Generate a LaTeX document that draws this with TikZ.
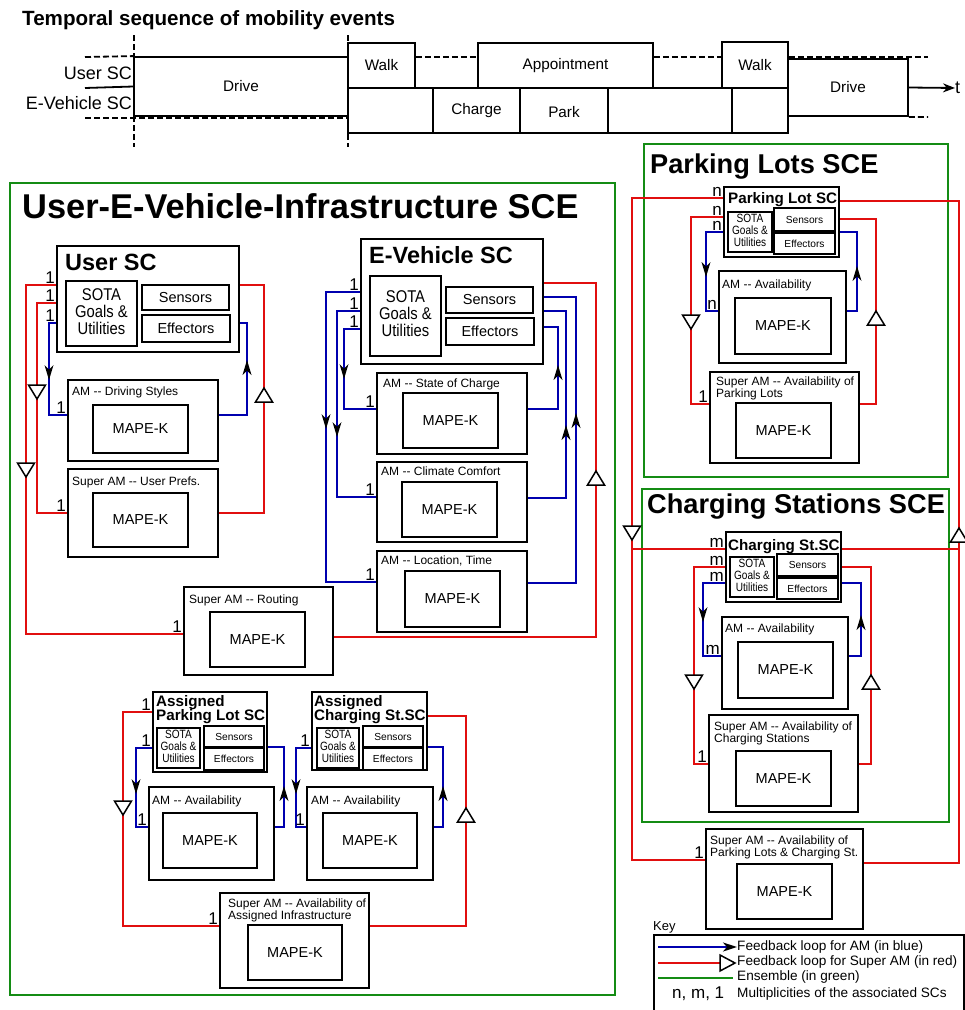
\documentclass[tikz,border=0pt]{standalone}
\usepackage{fontspec}
\setmainfont{Liberation Sans}
\usepackage{graphicx}
\usetikzlibrary{fit,arrows.meta}
\definecolor{lred}{RGB}{225,15,15}
\definecolor{lblue}{RGB}{0,0,175}
\definecolor{lgreen}{RGB}{20,140,20}
\tikzset{
 box/.style={draw, line width=1.8pt, inner sep=0pt, rectangle},
 sce/.style={draw=lgreen, line width=1.8pt, inner sep=0pt, rectangle},
 bl/.style={draw=lblue, line width=1.8pt},
 rd/.style={draw=lred, line width=1.8pt},
 gr/.style={draw=lgreen, line width=1.8pt},
 tline/.style={draw, line width=1.8pt},
 dsh/.style={draw, line width=1.8pt, dash pattern=on 6pt off 3pt},
 tri/.style={draw=black, line width=1.5pt, fill=white, line join=miter},
 mk/.style={font=\fontsize{14.5}{17}\selectfont, inner sep=0pt},
 se/.style={font=\fontsize{14.5}{17}\selectfont, inner sep=0pt},
 sesm/.style={font=\fontsize{10.2}{12}\selectfont, inner sep=0pt},
 lab/.style={font=\fontsize{12}{12}\selectfont, anchor=base west, inner sep=0pt},
 mult/.style={font=\fontsize{17}{17}\selectfont, anchor=south east, inner sep=1pt},
 tlab/.style={font=\fontsize{15.3}{17}\selectfont, inner sep=0pt},
 rowlab/.style={font=\fontsize{18}{18}\selectfont, inner sep=0pt, anchor=east},
 sctitle/.style={font=\bfseries\fontsize{23.5}{24}\selectfont, anchor=base west, inner sep=0pt},
 sctsm/.style={font=\bfseries\fontsize{15.2}{16}\selectfont, anchor=base west, inner sep=0pt},
 scetitle/.style={font=\bfseries\fontsize{27.2}{28}\selectfont, anchor=base west, inner sep=0pt},
 keyt/.style={font=\fontsize{13.6}{15}\selectfont, anchor=west, inner sep=0pt},
}
\newcommand{\bx}[6][box]{\node[#1, fit={(#3,#4) (#5,#6)}] (#2) {};}
\newcommand{\adn}[2]{\fill[black] ({#1},{#2+7}) -- ({#1-4.5},{#2-8}) -- ({#1},{#2-3.5}) -- ({#1+4.5},{#2-8}) -- cycle;}
\newcommand{\aup}[2]{\fill[black] ({#1},{#2-7}) -- ({#1-4.5},{#2+8}) -- ({#1},{#2+3.5}) -- ({#1+4.5},{#2+8}) -- cycle;}
\newcommand{\tdn}[2]{\draw[tri] ({#1-8.5},{#2-7}) -- ({#1+8.5},{#2-7}) -- ({#1},{#2+7}) -- cycle;}
\newcommand{\tup}[2]{\draw[tri] ({#1-8.5},{#2+7}) -- ({#1+8.5},{#2+7}) -- ({#1},{#2-7}) -- cycle;}
\newcommand{\mapek}[5]{\bx{#1}{#2}{#3}{#4}{#5}\node[mk] at (#1) {MAPE-K};}
\newcommand{\sotabig}[5]{\bx{#1}{#2}{#3}{#4}{#5}\node[inner sep=0pt] at (#1) {\scalebox{0.87}[1]{\fontsize{17}{15}\selectfont\begin{tabular}{@{}c@{}}SOTA\\Goals \&\\Utilities\end{tabular}}};}
\newcommand{\sotasm}[5]{\bx{#1}{#2}{#3}{#4}{#5}\node[inner sep=0pt] at (#1) {\scalebox{0.84}[1]{\fontsize{12}{10.5}\selectfont\begin{tabular}{@{}c@{}}SOTA\\Goals \&\\Utilities\end{tabular}}};}
\newcommand{\ml}[3]{\node[mult] at (#1|-0,#2) {#3};}
\begin{document}
\begin{tikzpicture}[x=1pt,y=-1pt]
\useasboundingbox (0,0) rectangle (965,1010);
\fill[white] (0,0) rectangle (965,1010);

% ---------------- Timeline ----------------
\node[anchor=base west, inner sep=0pt, font=\bfseries\fontsize{20.6}{21}\selectfont] (ttitle) at (22,25) {Temporal sequence of mobility events};
\coordinate (v1a) at (134,35); \coordinate (v1b) at (134,147);
\coordinate (v2a) at (348,35); \coordinate (v2b) at (348,147);
\draw[dsh] (v1a) -- (v1b);
\draw[dsh] (v2a) -- (v2b);
\bx{tdrive1}{134}{57}{348}{116}
\bx{twalk1}{348}{43}{415}{88}
\bx{tappt}{478}{43}{653}{88}
\bx{twalk2}{722}{42}{788}{88}
\bx{tdrive2}{788}{59}{908}{116}
\bx{tev1}{348}{88}{433}{133}
\bx{tcharge}{433}{88}{520}{133}
\bx{tpark}{520}{88}{608}{133}
\bx{tev4}{608}{88}{732}{133}
\bx{tev5}{732}{88}{788}{133}
\coordinate (d1) at (85,57);
\coordinate (d2) at (85,118); \coordinate (d3) at (348,118);
\coordinate (s1) at (85,88);
\coordinate (d4) at (928,57); \coordinate (d5) at (928,117);
\draw[dsh] (d1) -- (tdrive1.north west);
\draw[dsh] (d2) -- (d3);
\draw[tline] (s1) -- (tdrive1.west);
\draw[dsh] (twalk1.east|-0,57) -- (tappt.west|-0,57);
\draw[dsh] (tappt.east|-0,57) -- (twalk2.west|-0,57);
\draw[dsh] (twalk2.east|-0,57) -- (d4);
\draw[dsh] (tdrive2.south east) -- (d5);
\node[anchor=west, inner sep=0pt, font=\fontsize{18}{18}\selectfont] (tt) at (955,88) {t};
\draw[tline, -{Stealth[length=12pt,width=9pt]}] (tdrive2.east) -- (tt.west);
\node[rowlab] (lu) at (132,73) {User SC};
\node[rowlab] (le) at (132,103) {E-Vehicle SC};
\node[tlab] at (tdrive1) {Drive};
\node[tlab] at (twalk1) {Walk};
\node[tlab] at (tappt) {Appointment};
\node[tlab] at (twalk2) {Walk};
\node[tlab] at (tdrive2) {Drive};
\node[tlab] at (tcharge) {Charge};
\node[tlab] at ([yshift=-2pt]tpark.center) {Park};

% ---------------- Ensembles ----------------
\bx[sce]{sce1}{10}{183}{615}{995}
\bx[sce]{sce2}{644}{144}{948}{477}
\bx[sce]{sce3}{642}{489}{949}{822}
\node[anchor=base west, inner sep=0pt, font=\bfseries\fontsize{34.4}{35}\selectfont] (t1) at (22,218) {User-E-Vehicle-Infrastructure SCE};
\node[scetitle] (t2) at (650,173) {Parking Lots SCE};
\node[scetitle] (t3) at (647,513) {Charging Stations SCE};

% ---------------- User SC ----------------
\bx{usc}{57}{246}{239}{352}
\node[sctitle] at (65,270) {User SC};
\sotabig{usota}{66}{281}{137}{346}
\bx{usens}{142}{285}{229}{310}\node[se] at (usens) {Sensors};
\bx{ueff}{142}{315}{230}{342}\node[se] at (ueff) {Effectors};
\bx{ads}{68}{380}{218}{461}\node[lab] at (72,395) {AM -{}- Driving Styles};
\mapek{adsm}{93}{405}{188}{453}
\bx{sup}{68}{469}{218}{557}\node[lab] at (72,485) {Super AM -{}- User Prefs.};
\mapek{supm}{93}{493}{188}{547}
\bx{rout}{184}{587}{333}{675}\node[lab] at (189,603) {Super AM -{}- Routing};
\mapek{routm}{210}{612}{305}{667}

% ---------------- E-Vehicle SC ----------------
\bx{evsc}{361}{239}{543}{364}
\node[sctitle] at (369,263) {E-Vehicle SC};
\sotabig{evsota}{370}{276}{441}{356}
\bx{evsens}{446}{287}{533}{313}\node[se] at (evsens) {Sensors};
\bx{eveff}{446}{318}{534}{345}\node[se] at (eveff) {Effectors};
\bx{asoc}{377}{373}{527}{454}\node[lab] at (383,387) {AM -{}- State of Charge};
\mapek{asocm}{403}{393}{498}{448}
\bx{aclim}{377}{462}{527}{542}\node[lab] at (381,475) {AM -{}- Climate Comfort};
\mapek{aclimm}{402}{482}{497}{537}
\bx{aloc}{377}{551}{527}{632}\node[lab] at (381,564) {AM -{}- Location, Time};
\mapek{alocm}{405}{571}{500}{627}

% ---------------- Assigned ----------------
\bx{apl}{153}{692}{267}{772}
\node[sctsm] at (156,706) {Assigned};
\node[sctsm] at (156,720) {Parking Lot SC};
\sotasm{aplsota}{157}{728}{200}{768}
\bx{aplsens}{204}{726}{264}{747}\node[sesm] at (aplsens) {Sensors};
\bx{apleff}{204}{748}{264}{770}\node[sesm] at (apleff) {Effectors};
\bx{apla}{149}{787}{274}{880}\node[lab] at (152,804) {AM -{}- Availability};
\mapek{aplam}{163}{813}{257}{868}
\bx{acs}{312}{692}{427}{770}
\node[sctsm] at (314,706) {Assigned};
\node[sctsm] at (314,720) {Charging St.SC};
\sotasm{acssota}{317}{728}{359}{768}
\bx{acssens}{363}{726}{423}{747}\node[sesm] at (acssens) {Sensors};
\bx{acseff}{363}{748}{423}{770}\node[sesm] at (acseff) {Effectors};
\bx{acsa}{307}{787}{433}{880}\node[lab] at (311,804) {AM -{}- Availability};
\mapek{acsam}{323}{813}{417}{868}
\bx{sai}{220}{893}{369}{988}
\node[lab] at (228,907) {Super AM -{}- Availability of};
\node[lab] at (228,919) {Assigned Infrastructure};
\mapek{saim}{248}{925}{342}{980}

% ---------------- Parking Lots ----------------
\bx{pl}{724}{187}{839}{257}
\node[sctsm] at (728,203) {Parking Lot SC};
\sotasm{plsota}{728}{212}{772}{252}
\bx{plsens}{774}{208}{835}{231}\node[sesm] at (plsens) {Sensors};
\bx{pleff}{774}{233}{835}{254}\node[sesm] at (pleff) {Effectors};
\bx{pla}{719}{271}{846}{363}\node[lab] at (722,288) {AM -{}- Availability};
\mapek{plam}{735}{298}{831}{354}
\bx{spl}{710}{372}{859}{463}
\node[lab] at (716,385) {Super AM -{}- Availability of};
\node[lab] at (716,397) {Parking Lots};
\mapek{splm}{736}{403}{831}{458}

% ---------------- Charging Stations ----------------
\bx{cs}{726}{532}{841}{602}
\node[sctsm] at (728,550) {Charging St.SC};
\sotasm{cssota}{730}{557}{774}{597}
\bx{cssens}{777}{554}{838}{576}\node[sesm] at (cssens) {Sensors};
\bx{cseff}{777}{578}{838}{599}\node[sesm] at (cseff) {Effectors};
\bx{csa}{722}{617}{848}{709}\node[lab] at (725,632) {AM -{}- Availability};
\mapek{csam}{738}{642}{833}{698}
\bx{scs}{709}{715}{858}{812}
\node[lab] at (714,730) {Super AM -{}- Availability of};
\node[lab] at (714,742) {Charging Stations};
\mapek{scsm}{736}{751}{831}{806}

\bx{sall}{706}{829}{863}{929}
\node[lab] at (710,844) {Super AM -{}- Availability of};
\node[lab] at (710,856) {Parking Lots \& Charging St.};
\mapek{sallm}{737}{864}{832}{919}

% ---------------- Loops: User ----------------
\draw[bl] (usc.west|-0,323) -| (49,415) -- (ads.west|-0,415);
\draw[bl] (ads.east|-0,415) -| (247,323) -- (usc.east|-0,323);
\draw[rd] (usc.west|-0,303) -| (37,513) -- (sup.west|-0,513);
\draw[rd] (sup.east|-0,513) -| (264,285) -- (usc.east|-0,285);
\draw[rd] (usc.west|-0,285) -| (26,634) -- (rout.west|-0,634);
\draw[rd] (rout.east|-0,637) -| (596,283) -- (evsc.east|-0,283);
\adn{49}{373} \aup{247}{367}
\tdn{37}{392} \tup{264}{395} \tdn{26}{470} \tup{596}{478}
\ml{usc.west}{285}{1} \ml{usc.west}{303}{1} \ml{usc.west}{323}{1}
\ml{ads.west}{415}{1} \ml{sup.west}{513}{1} \ml{rout.west}{634}{1}

% ---------------- Loops: E-Vehicle ----------------
\draw[bl] (evsc.west|-0,292) -| (326,582) -- (aloc.west|-0,582);
\draw[bl] (evsc.west|-0,311) -| (337,497) -- (aclim.west|-0,497);
\draw[bl] (evsc.west|-0,329) -| (344,409) -- (asoc.west|-0,409);
\draw[bl] (asoc.east|-0,409) -| (558,327) -- (evsc.east|-0,327);
\draw[bl] (aclim.east|-0,498) -| (566,311) -- (evsc.east|-0,311);
\draw[bl] (aloc.east|-0,583) -| (576,297) -- (evsc.east|-0,297);
\adn{326}{422} \adn{337}{430} \adn{344}{372}
\aup{558}{372} \aup{566}{432} \aup{576}{420}
\ml{evsc.west}{292}{1} \ml{evsc.west}{311}{1} \ml{evsc.west}{329}{1}
\ml{asoc.west}{409}{1} \ml{aclim.west}{497}{1} \ml{aloc.west}{582}{1}

% ---------------- Loops: Assigned ----------------
\draw[rd] (apl.west|-0,712) -| (123,926) -- (sai.west|-0,926);
\draw[rd] (sai.east|-0,926) -| (466,716) -- (acs.east|-0,716);
\draw[bl] (apl.west|-0,748) -| (136,827) -- (apla.west|-0,827);
\draw[bl] (apla.east|-0,827) -| (284,747) -- (apl.east|-0,747);
\draw[bl] (acs.west|-0,748) -| (296,827) -- (acsa.west|-0,827);
\draw[bl] (acsa.east|-0,827) -| (443,747) -- (acs.east|-0,747);
\tdn{123}{808} \tup{466}{815}
\adn{136}{787} \aup{284}{793} \adn{296}{787} \aup{443}{793}
\ml{apl.west}{712}{1} \ml{apl.west}{748}{1} \ml{apla.west}{827}{1}
\ml{acs.west}{748}{1} \ml{acsa.west}{827}{1} \ml{sai.west}{926}{1}

% ---------------- Loops: Parking ----------------
\draw[bl] (pl.west|-0,232) -| (706,311) -- (pla.west|-0,311);
\draw[bl] (pla.east|-0,311) -| (857,232) -- (pl.east|-0,232);
\draw[rd] (pl.west|-0,217) -| (691,404) -- (spl.west|-0,404);
\draw[rd] (spl.east|-0,404) -| (876,219) -- (pl.east|-0,219);
\draw[rd] (pl.west|-0,198) -| (632,860) -- (sall.west|-0,860);
\draw[rd] (sall.east|-0,863) -| (959,201) -- (pl.east|-0,201);
\adn{706}{270} \aup{857}{273}
\tdn{691}{322} \tup{876}{318}
\ml{pl.west}{198}{n} \ml{pl.west}{217}{n} \ml{pl.west}{232}{n}
\ml{pla.west}{311}{n} \ml{spl.west}{404}{1}

% ---------------- Loops: Charging ----------------
\draw[bl] (cs.west|-0,583) -| (703,656) -- (csa.west|-0,656);
\draw[bl] (csa.east|-0,656) -| (861,583) -- (cs.east|-0,583);
\draw[rd] (cs.west|-0,567) -| (694,764) -- (scs.west|-0,764);
\draw[rd] (scs.east|-0,764) -| (871,567) -- (cs.east|-0,567);
\draw[rd] (cs.west|-0,549) -| (632,860) -- (sall.west|-0,860);
\draw[rd] (cs.east|-0,549) -| (959,863) -- (sall.east|-0,863);
\adn{703}{615} \aup{861}{622}
\tdn{694}{682} \tup{871}{682}
\tdn{632}{533} \tup{959}{535}
\ml{cs.west}{549}{m} \ml{cs.west}{567}{m} \ml{cs.west}{583}{m}
\ml{csa.west}{656}{m} \ml{scs.west}{764}{1} \ml{sall.west}{860}{1}

% ---------------- Key ----------------
\node[anchor=base west, inner sep=0pt, font=\fontsize{13}{13}\selectfont] (keyt) at (653,930) {Key};
\bx{keybox}{654}{935}{964}{1030}
\coordinate (k1a) at (658,947); \coordinate (k1b) at (737,947);
\coordinate (k2a) at (658,963); \coordinate (k2b) at (720,963);
\coordinate (k3a) at (658,978); \coordinate (k3b) at (733,978);
\draw[bl, -{Stealth[length=14pt,width=9pt,inset=4pt,color=black]}] (k1a) -- (k1b);
\draw[rd] (k2a) -- (k2b);
\draw[tri] (720,955) -- (735,963) -- (720,971) -- cycle;
\draw[gr] (k3a) -- (k3b);
\node[keyt] at (737,947) {Feedback loop for AM (in blue)};
\node[keyt] at (737,962) {Feedback loop for Super AM (in red)};
\node[keyt] at (737,977) {Ensemble (in green)};
\node[anchor=west, inner sep=0pt, font=\fontsize{17}{17}\selectfont] at (672,994) {n, m, 1};
\node[keyt] at (737,994) {Multiplicities of the associated SCs};
\end{tikzpicture}
\end{document}
